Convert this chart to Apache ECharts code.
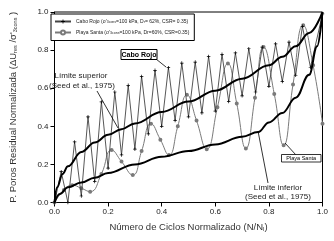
<!DOCTYPE html>
<html><head><meta charset="utf-8">
<script src="https://cdn.jsdelivr.net/npm/echarts@6/dist/echarts.min.js"></script>
<style>html,body{margin:0;padding:0;background:#fff}#c{width:334px;height:241px}</style>
</head><body><div id="c"></div>
<script>
const axisTicks = [0.0, 0.2, 0.4, 0.6, 0.8, 1.0];

const caboRojoX = [0,0.025,0.05,0.075,0.10,0.125,0.15,0.175,0.20,0.225,0.25,0.275,0.30,0.325,0.35,0.375,0.40,0.425,0.45,0.475,0.50,0.525,0.55,0.575,0.60,0.625,0.65,0.675,0.70,0.725,0.75,0.775,0.80,0.825,0.85,0.875,0.90,0.925,0.955,1.0];
const caboRojoY = [0,0.162,0.0,0.318,0.034,0.45,0.11,0.528,0.18,0.58,0.25,0.615,0.28,0.662,0.36,0.694,0.40,0.708,0.43,0.732,0.45,0.737,0.47,0.767,0.48,0.778,0.53,0.785,0.56,0.807,0.58,0.816,0.61,0.833,0.635,0.842,0.668,0.925,0.71,0.99];

const playaSantaX = [0,0.035,0.066,0.10,0.133,0.175,0.213,0.25,0.292,0.325,0.36,0.395,0.427,0.46,0.494,0.53,0.568,0.608,0.647,0.68,0.714,0.748,0.78,0.82,0.855,0.89,0.928,0.965,1.0];
const playaSantaY = [0,0.065,0.091,0.075,0.057,0.15,0.275,0.215,0.144,0.27,0.414,0.33,0.249,0.40,0.565,0.43,0.28,0.50,0.73,0.52,0.284,0.55,0.816,0.57,0.30,0.62,0.93,0.72,0.414];

const upperX = [0,0.01,0.03,0.05,0.1,0.15,0.2,0.25,0.3,0.4,0.5,0.6,0.7,0.8,0.85,0.9,0.95,1.0];
const upperY = [0,0.08,0.15,0.19,0.265,0.315,0.355,0.385,0.415,0.475,0.53,0.587,0.65,0.72,0.765,0.82,0.89,1.0];

const lowerX = [0,0.02,0.05,0.1,0.15,0.2,0.3,0.4,0.5,0.6,0.7,0.76,0.8,0.85,0.9,0.95,0.98,1.0];
const lowerY = [0,0.045,0.08,0.105,0.13,0.155,0.2,0.24,0.27,0.305,0.345,0.37,0.42,0.47,0.55,0.67,0.82,1.0];

const zip = (xs, ys) => xs.map((x, i) => [x, ys[i]]);
const FONT = 'Liberation Sans, Arial, sans-serif';
const chart = echarts.init(document.getElementById('c'), null, {renderer: 'canvas'});

const legendText = {
  'Cabo Rojo': "Cabo Rojo (σ'{sub|3cons}=100 kPa, D{sub|r}= 62%, CSR= 0.35)",
  'Playa Santa': "Playa Santa (σ'{sub|3cons}=100 kPa, Dr=60%, CSR=0.35)"
};

chart.setOption({
  animation: false,
  backgroundColor: '#fff',
  grid: {left: 50, right: 11.5, top: 12, bottom: 38.5, show: true, borderColor: '#000', borderWidth: 1},
  xAxis: {
    type: 'value', min: axisTicks[0], max: axisTicks[axisTicks.length-1], interval: 0.2,
    axisLine: {lineStyle: {color: '#000', width: 1}},
    axisTick: {show: true, length: 4, lineStyle: {color: '#000'}},
    splitLine: {show: false},
    axisLabel: {margin: 5, fontSize: 8, color: '#222', fontFamily: FONT, formatter: v => v.toFixed(1)},
    name: 'Número de Ciclos Normalizado (N/N{sub|l})',
    nameLocation: 'middle', nameGap: 20,
    nameTextStyle: {fontSize: 9.5, color: '#333', fontFamily: FONT, rich: {sub: {fontSize: 6, padding: [4,0,0,0], fontFamily: FONT, color: '#333'}}}
  },
  yAxis: {
    type: 'value', min: axisTicks[0], max: axisTicks[axisTicks.length-1], interval: 0.2,
    axisLine: {show: true, lineStyle: {color: '#000', width: 1}},
    axisTick: {show: true, length: 4, lineStyle: {color: '#000'}},
    splitLine: {show: false},
    axisLabel: {margin: 6, fontSize: 8, color: '#222', fontFamily: FONT, formatter: v => v.toFixed(1)},
    name: "P. Poros Residual Normalizada (ΔU{sub|res} /σ'{sub|3cons} )",
    nameLocation: 'middle', nameGap: 36, nameRotate: 90,
    nameTextStyle: {fontSize: 9.5, color: '#333', fontFamily: FONT, rich: {sub: {fontSize: 5.5, padding: [5,0,0,0], fontFamily: FONT, color: '#333'}}}
  },
  legend: {
    data: ['Cabo Rojo', 'Playa Santa'],
    orient: 'vertical', left: 51, top: 14,
    borderColor: '#000', borderWidth: 1, padding: [5, 5, 5, 3],
    itemGap: 5, itemWidth: 16, itemHeight: 5,
    backgroundColor: '#fff',
    formatter: n => legendText[n],
    textStyle: {fontSize: 5, color: '#222', fontFamily: FONT, rich: {sub: {fontSize: 3.5, padding: [2,0,0,0], fontFamily: FONT}}}
  },
  series: [
    {name: 'Playa Santa', type: 'line', data: zip(playaSantaX, playaSantaY), smooth: 0.5,
     lineStyle: {color: '#7a7a7a', width: 1}, itemStyle: {color: '#7a7a7a', borderColor: '#777', borderWidth: 0.6},
     symbol: 'emptyCircle', symbolSize: 2, z: 2},
    {name: 'Cabo Rojo', type: 'line', data: zip(caboRojoX, caboRojoY), smooth: false,
     lineStyle: {color: '#444', width: 0.9}, itemStyle: {color: '#000'},
     symbol: 'path://M4,0h2v4h4v2h-4v4h-2v-4h-4v-2h4z', symbolSize: 3.5, z: 3},
    {name: 'Upper', type: 'line', data: zip(upperX, upperY), smooth: 0.4, smoothMonotone: 'x',
     showSymbol: false, lineStyle: {color: '#000', width: 2}, z: 4},
    {name: 'Lower', type: 'line', data: zip(lowerX, lowerY), smooth: 0.4, smoothMonotone: 'x',
     showSymbol: false, lineStyle: {color: '#000', width: 2}, z: 4}
  ],
  graphic: [
    {type: 'line', shape: {x1: 156, y1: 59, x2: 166, y2: 67}, style: {stroke: '#000', lineWidth: 0.8}, z: 10},
    {type: 'rect', shape: {x: 121, y: 49.5, width: 36, height: 10}, style: {fill: '#fff', stroke: '#000', lineWidth: 1}, z: 10},
    {type: 'text', x: 139, y: 54.7, style: {text: 'Cabo Rojo', font: 'bold 7px ' + FONT, fill: '#000', align: 'center', verticalAlign: 'middle'}, z: 11},

    {type: 'line', shape: {x1: 97, y1: 91, x2: 118, y2: 128}, style: {stroke: '#000', lineWidth: 0.8}, z: 10},
    {type: 'text', x: 81, y: 75.5, style: {text: 'Límite superior', font: '8px ' + FONT, fill: '#222', align: 'center', verticalAlign: 'middle'}, z: 11},
    {type: 'text', x: 82, y: 85.5, style: {text: '(Seed et al., 1975)', font: '8px ' + FONT, fill: '#222', align: 'center', verticalAlign: 'middle'}, z: 11},

    {type: 'line', shape: {x1: 268, y1: 183, x2: 258, y2: 131}, style: {stroke: '#000', lineWidth: 0.8}, z: 10},
    {type: 'text', x: 278, y: 188, style: {text: 'Límite inferior', font: '8px ' + FONT, fill: '#222', align: 'center', verticalAlign: 'middle'}, z: 11},
    {type: 'text', x: 278, y: 197, style: {text: '(Seed et al., 1975)', font: '8px ' + FONT, fill: '#222', align: 'center', verticalAlign: 'middle'}, z: 11},

    {type: 'line', shape: {x1: 296, y1: 155, x2: 285, y2: 143}, style: {stroke: '#000', lineWidth: 0.8}, z: 10},
    {type: 'rect', shape: {x: 281.5, y: 154.5, width: 39.5, height: 7.5}, style: {fill: '#fff', stroke: '#000', lineWidth: 0.8}, z: 10},
    {type: 'text', x: 301.2, y: 158.5, style: {text: 'Playa Santa', font: '5.5px ' + FONT, fill: '#000', align: 'center', verticalAlign: 'middle'}, z: 11}
  ]
});
</script></body></html>
